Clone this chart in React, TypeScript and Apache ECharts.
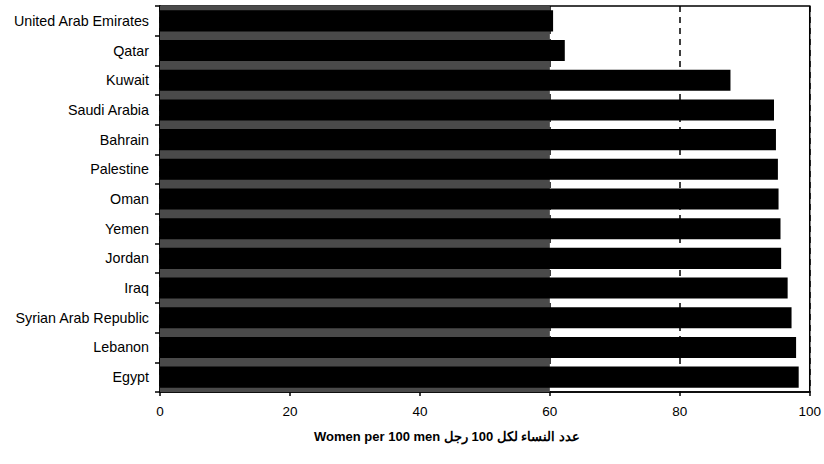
import React, { useEffect, useRef } from "react";
import * as echarts from "echarts";

const categories: string[] = [
  "United Arab Emirates",
  "Qatar",
  "Kuwait",
  "Saudi Arabia",
  "Bahrain",
  "Palestine",
  "Oman",
  "Yemen",
  "Jordan",
  "Iraq",
  "Syrian Arab Republic",
  "Lebanon",
  "Egypt",
];

const womenPer100Men: number[] = [60.5, 62.3, 87.8, 94.5, 94.8, 95.1, 95.2, 95.5, 95.6, 96.6, 97.2, 97.9, 98.3];

const xTicks: number[] = [0, 20, 40, 60, 80, 100];

const axisTitle = "Women per 100 men عدد النساء لكل 100 رجل";

export default function App() {
  const ref = useRef<HTMLDivElement>(null);

  useEffect(() => {
    if (!ref.current) return;
    const chart = echarts.init(ref.current, null, { renderer: "svg" });
    const font = "'Liberation Sans', Arial, sans-serif";
    chart.setOption({
      animation: false,
      backgroundColor: "#ffffff",
      grid: {
        left: 160,
        right: 14,
        top: 6,
        bottom: 72,
        show: true,
        borderColor: "#000",
        borderWidth: 1.5,
        backgroundColor: "transparent",
      },
      xAxis: {
        type: "value",
        min: xTicks[0],
        max: xTicks[xTicks.length - 1],
        interval: 20,
        axisLine: { show: true, lineStyle: { color: "#000", width: 1.5 } },
        axisTick: { show: true, length: 4, lineStyle: { color: "#000", width: 1.5 } },
        axisLabel: { color: "#000", fontSize: 13.5, fontFamily: font, margin: 12 },
        splitLine: { show: true, lineStyle: { color: "#000", width: 1.5, type: [6, 5] } },
      },
      yAxis: {
        type: "category",
        data: categories,
        inverse: true,
        axisLine: { show: true, lineStyle: { color: "#000", width: 1.5 } },
        axisTick: { show: true, length: 5, lineStyle: { color: "#000", width: 1.5 } },
        axisLabel: { color: "#000", fontSize: 14.3, fontFamily: font, margin: 11 },
        splitLine: { show: false },
      },
      series: [
        {
          type: "bar",
          data: womenPer100Men,
          barWidth: "71%",
          itemStyle: { color: "#000" },
          markArea: {
            silent: true,
            itemStyle: { color: "#4a4a4a" },
            data: [[{ xAxis: 0 }, { xAxis: 60 }]],
          },
        },
      ],
      graphic: [
        {
          type: "text",
          x: 447,
          y: 436,
          style: {
            text: axisTitle,
            fill: "#000",
            font: `bold 13px ${font}`,
            textAlign: "center",
            textVerticalAlign: "middle",
          },
        },
      ],
    });
    return () => chart.dispose();
  }, []);

  return (
    <div
      ref={ref}
      style={{ position: "absolute", left: 0, top: 0, width: 824, height: 464 }}
    />
  );
}
